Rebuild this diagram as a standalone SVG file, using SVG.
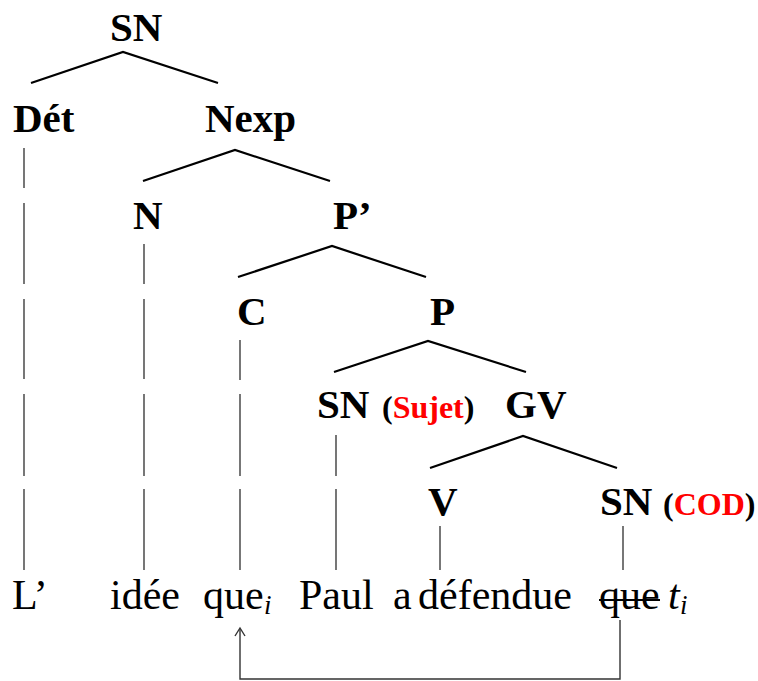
<svg xmlns="http://www.w3.org/2000/svg" width="758" height="681" viewBox="0 0 758 681">
<defs>
<style>
.cat{font-family:"Liberation Serif","Times New Roman",serif;font-weight:bold;font-size:41px;fill:#000}
.lab{font-family:"Liberation Serif","Times New Roman",serif;font-weight:bold;font-size:32px;fill:#000}
.red{fill:#ff0000}
.w{font-family:"Liberation Serif","Times New Roman",serif;font-size:42px;fill:#000}
.sub{font-family:"Liberation Serif","Times New Roman",serif;font-style:italic;font-size:27px;fill:#000}
.br{stroke:#000;stroke-width:2.2;fill:none}
.vl{stroke:#555;stroke-width:1.6;fill:none}
.mv{stroke:#333;stroke-width:1.4;fill:none}
</style>
</defs>
<rect width="758" height="681" fill="#fff"/>
<g id="n-SN"><text class="cat" x="110" y="41">SN</text></g>
<g id="n-Det"><text class="cat" x="13" y="132">Dét</text></g>
<g id="n-Nexp"><text class="cat" x="205" y="132">Nexp</text></g>
<g id="n-N"><text class="cat" x="133" y="229">N</text></g>
<g id="n-P1"><text class="cat" x="333" y="229">P’</text></g>
<g id="n-C"><text class="cat" x="237" y="325">C</text></g>
<g id="n-P"><text class="cat" x="430" y="325">P</text></g>
<g id="n-SNsujet"><text class="cat" x="317" y="418">SN</text><text class="lab" x="382" y="418">(<tspan class="red">Sujet</tspan>)</text></g>
<g id="n-GV"><text class="cat" x="505" y="418">GV</text></g>
<g id="n-V"><text class="cat" x="428" y="515">V</text></g>
<g id="n-SNcod"><text class="cat" x="600" y="515">SN</text><text class="lab" x="663" y="515">(<tspan class="red">COD</tspan>)</text></g>
<g id="words">
<text class="w" x="12" y="609">L’</text>
<text class="w" x="110" y="609">idée</text>
<text class="w" x="203" y="609">que</text><text class="sub" x="264" y="614">i</text>
<text class="w" x="299" y="609">Paul</text>
<text class="w" x="393" y="609">a</text>
<text class="w" x="418" y="609">défendue</text>
<text class="w" x="599" y="609">que</text>
<text class="w" x="668" y="609" font-style="italic">t</text><text class="sub" x="680" y="614">i</text>
</g>
<g id="connectors">
<path class="br" d="M31 83 L123 52 L218 83"/>
<path class="br" d="M143 181 L235 150 L330 181"/>
<path class="br" d="M238 277 L332 246 L426 277"/>
<path class="br" d="M334 372 L428 341 L526 372"/>
<path class="br" d="M430 468 L523 436 L617 468"/>
<path class="vl" d="M24 148V188M24 203V284M24 299V379M24 394V476M24 489V570"/>
<path class="vl" d="M144 244V284M144 299V379M144 394V476M144 489V570"/>
<path class="vl" d="M240 340V380M240 394V476M240 489V570"/>
<path class="vl" d="M336 435V476M336 489V570"/>
<path class="vl" d="M440 526V570"/>
<path class="vl" d="M623 526V570"/>
<path d="M599 600H660" stroke="#000" stroke-width="2.2"/>
<path class="mv" d="M620 620V679H240V629"/>
<path class="mv" d="M235 636L240 628L245 636"/>
</g>
</svg>
